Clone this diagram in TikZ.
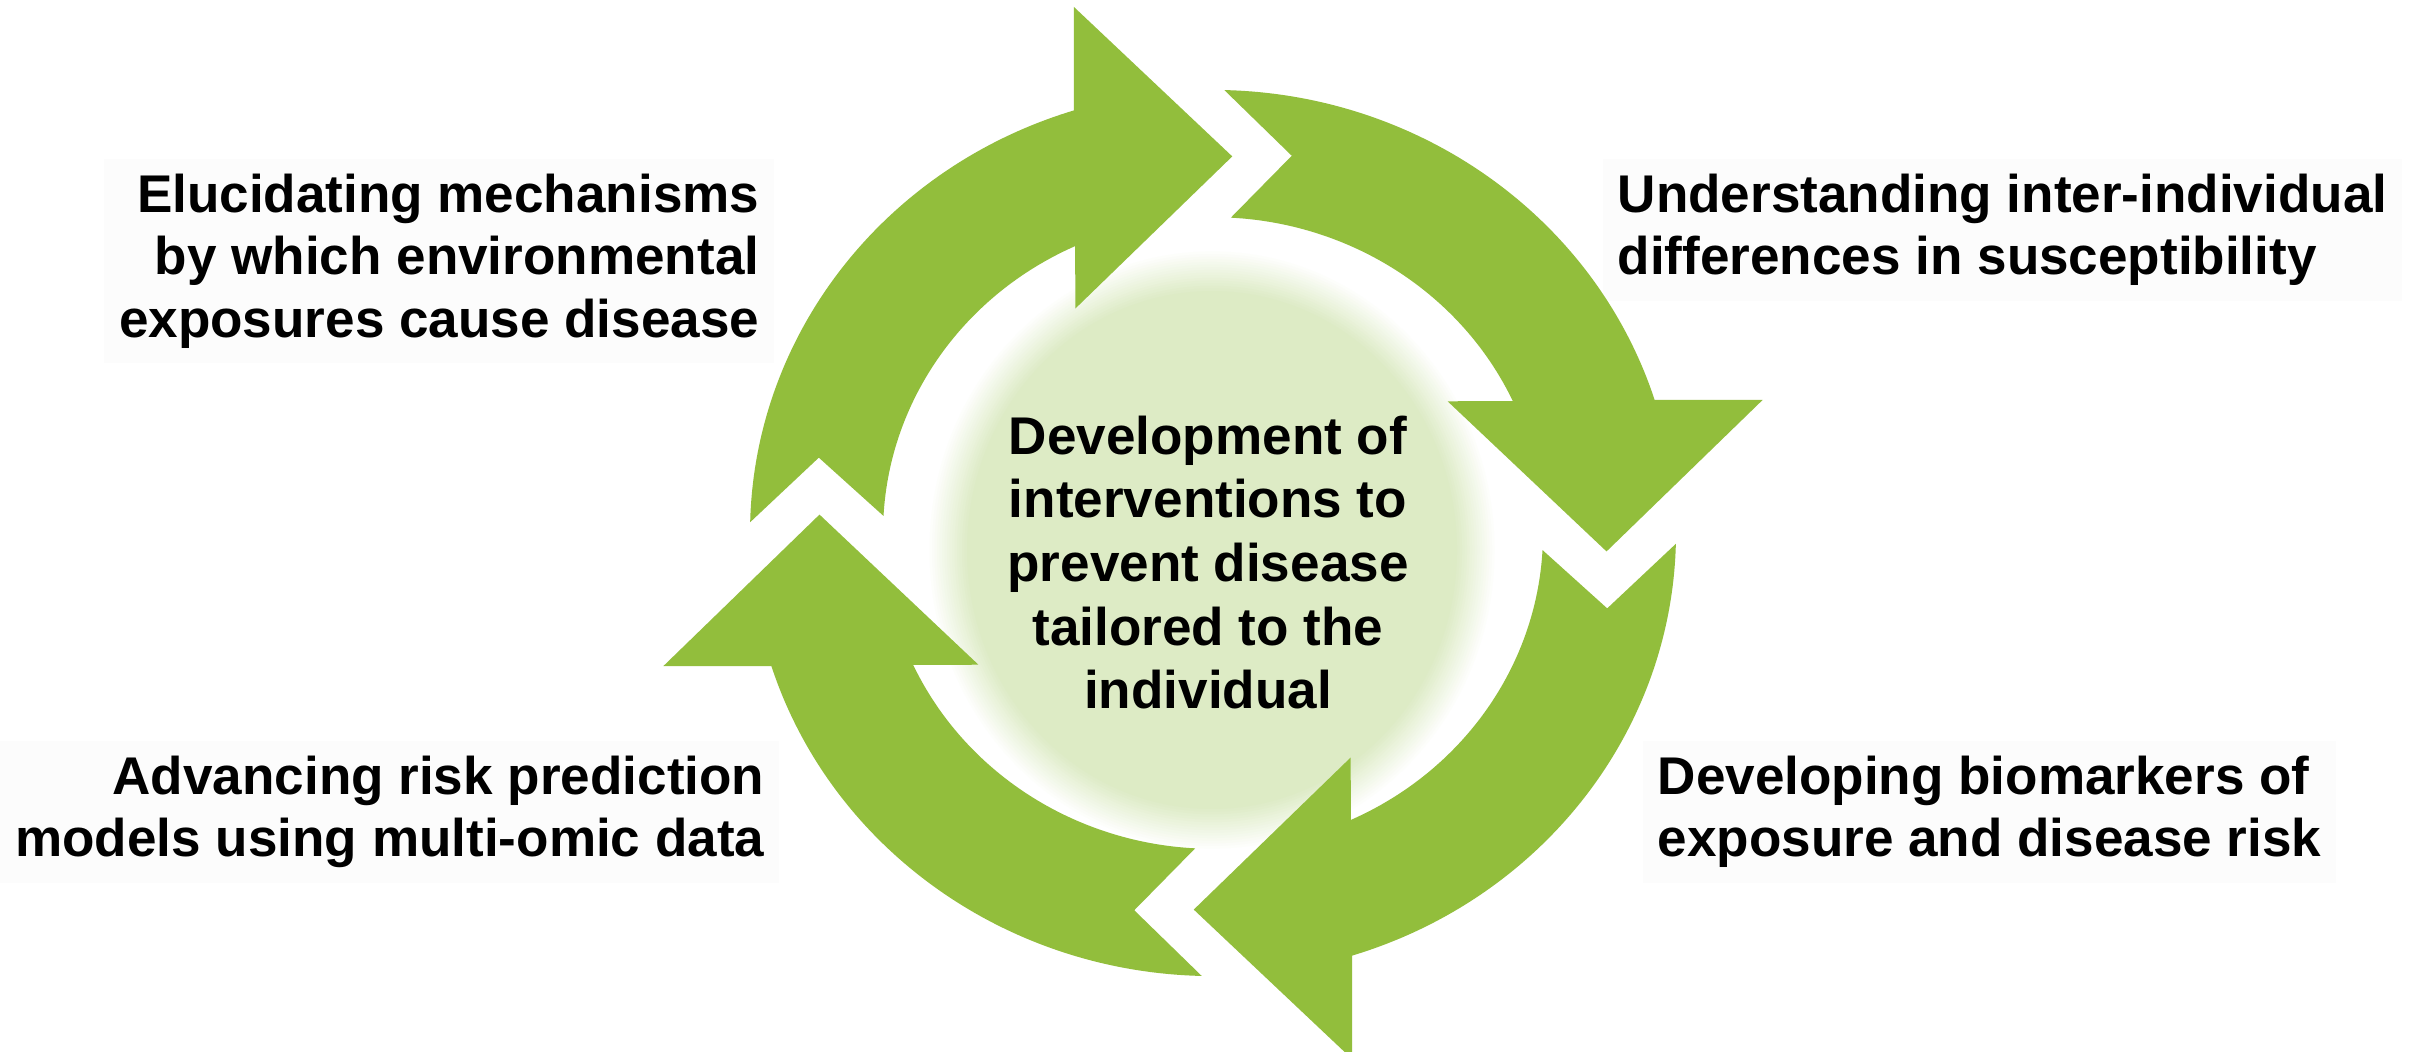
\documentclass[tikz,border=0pt]{standalone}
\usepackage{fontspec}
\setmainfont{Liberation Sans}
\definecolor{arrowgreen}{RGB}{146,190,60}
\definecolor{discgreen}{RGB}{221,235,197}
\definecolor{faintbox}{RGB}{252,252,252}
\begin{document}
\begin{tikzpicture}[x=1cm,y=1cm,
  cyclearrow/.style={fill=arrowgreen, draw=none},
  sidetext/.style={font=\bfseries\fontsize{15.1pt}{17.8pt}\selectfont, inner sep=0.15cm, fill=faintbox, text=black},
  centertext/.style={font=\bfseries\fontsize{15.1pt}{18.1pt}\selectfont, inner sep=0pt, align=center, text=black}
]
\useasboundingbox (0,0) rectangle (24.17,-10.51);
\fill[white] (0,0) rectangle (24.17,-10.51);
% soft central disc
\foreach \i in {0,...,16} {
  \pgfmathsetmacro\pct{\i*100/16}
  \pgfmathsetmacro\rx{2.85-\i*0.025}
  \pgfmathsetmacro\ry{(2.85-\i*0.025)*1.057}
  \fill[discgreen!\pct!white] (12.12,-5.50) ellipse[x radius=\rx, y radius=\ry];
}
% side texts
\node[sidetext, anchor=north east, align=right] (tl) at (7.75,-1.58)
  {Elucidating mechanisms\\by which environmental\\exposures cause disease};
\node[sidetext, anchor=north west, align=left] (tr) at (16.02,-1.58)
  {Understanding inter-individual\\differences in susceptibility};
\node[sidetext, anchor=north east, align=right] (bl) at (7.80,-7.40)
  {Advancing risk prediction\\models using multi-omic data};
\node[sidetext, anchor=north west, align=left] (br) at (16.42,-7.40)
  {Developing biomarkers of\\exposure and disease risk};
% circular arrows
\begin{scope}[shift={(12.13,-5.33)}, yscale=0.957]
\foreach \k in {0,-90,-180,-270} {
  \begin{scope}[rotate=\k]
  \fill[cyclearrow] (178.6:4.63) arc[start angle=178.6, end angle=107.5, radius=4.63]
     -- (104.2:5.67) -- (87.2:3.94) -- (120.4:2.72) -- (114.7:3.30)
     arc[start angle=114.7, end angle=176.9, radius=3.30]
     -- (168.7:4.02) -- cycle;
  \end{scope}
}
\end{scope}
% centre text
\node[centertext, anchor=north] (ctr) at (12.08,-4.15)
  {Development of\\interventions to\\prevent disease\\tailored to the\\individual};
\end{tikzpicture}
\end{document}
